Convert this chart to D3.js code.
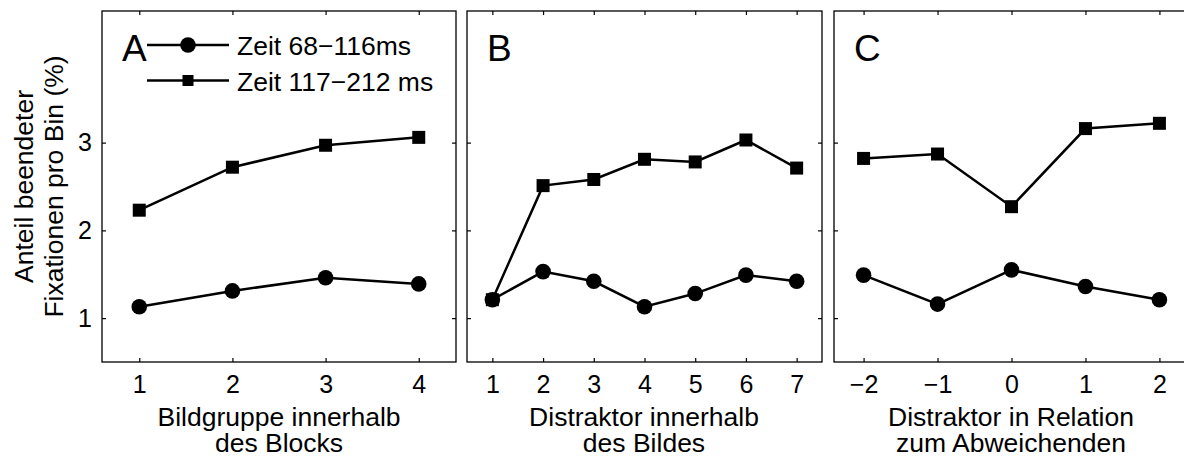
<!DOCTYPE html>
<html>
<head>
<meta charset="utf-8">
<script src="https://cdn.jsdelivr.net/npm/d3@7"></script>
<style>
  body { margin: 0; background: #fff; }
  svg { display: block; font-family: "Liberation Sans", Arial, Helvetica, sans-serif; }
</style>
</head>
<body>
<div id="chart"></div>
<script>
// values (percent of fixations ending per bin)
var aX = [1, 2, 3, 4];
var aEarly = [1.13, 1.31, 1.46, 1.39];
var aLate = [2.23, 2.72, 2.97, 3.06];

var bX = [1, 2, 3, 4, 5, 6, 7];
var bEarly = [1.21, 1.53, 1.42, 1.13, 1.28, 1.49, 1.42];
var bLate = [1.21, 2.51, 2.58, 2.81, 2.78, 3.03, 2.71];

var cX = [-2, -1, 0, 1, 2];
var cEarly = [1.49, 1.16, 1.55, 1.36, 1.21];
var cLate = [2.82, 2.87, 2.27, 3.16, 3.22];

var yTicks = [1, 2, 3];
var seriesNames = ["Zeit 68\u2212116ms", "Zeit 117\u2212212 ms"];
var panelLetters = ["A", "B", "C"];
var xTitles = [
    ["Bildgruppe innerhalb", "des Blocks"],
    ["Distraktor innerhalb", "des Bildes"],
    ["Distraktor in Relation", "zum Abweichenden"]
];
var yTitle = ["Anteil beendeter", "Fixationen pro Bin (%)"];

var width = 1184, height = 459;
var top_ = 11, bottom = 362;
var fontSize = 26.5;
var tickFont = 25;

var svg = d3.select("#chart").append("svg")
    .attr("width", width)
    .attr("height", height);

var y = d3.scaleLinear().domain([0.5, 4.5]).range([bottom, top_]);

var panels = [
    { left: 102, right: 456, domain: [0.6, 4.4], xs: aX, early: aEarly, late: aLate },
    { left: 467, right: 822, domain: [0.5, 7.5], xs: bX, early: bEarly, late: bLate },
    { left: 834, right: 1189, domain: [-2.4, 2.4], xs: cX, early: cEarly, late: cLate }
];

function drawSeries(g, x, xs, vals, shape) {
    var pts = xs.map(function (d, i) { return [x(d), y(vals[i])]; });
    g.append("path")
        .attr("d", d3.line()(pts))
        .attr("fill", "none")
        .attr("stroke", "#000")
        .attr("stroke-width", 2.5);
    if (shape == "circle") {
        g.selectAll(null).data(pts).enter().append("circle")
            .attr("cx", function (d) { return d[0]; })
            .attr("cy", function (d) { return d[1]; })
            .attr("r", 7.8)
            .attr("fill", "#000");
    } else {
        g.selectAll(null).data(pts).enter().append("rect")
            .attr("x", function (d) { return d[0] - 6.5; })
            .attr("y", function (d) { return d[1] - 6.5; })
            .attr("width", 13)
            .attr("height", 13)
            .attr("fill", "#000");
    }
}

panels.forEach(function (p, idx) {
    var x = d3.scaleLinear().domain(p.domain).range([p.left, p.right]);
    var g = svg.append("g");

    // inward ticks on all four sides (box style)
    var xb = g.append("g").attr("transform", "translate(0," + bottom + ")")
        .call(d3.axisBottom(x).tickValues(p.xs).tickSize(-4).tickPadding(13)
            .tickFormat(d3.format("d")));
    var xt = g.append("g").attr("transform", "translate(0," + top_ + ")")
        .call(d3.axisTop(x).tickValues(p.xs).tickSize(-4).tickFormat(""));
    var yl = g.append("g").attr("transform", "translate(" + p.left + ",0)")
        .call(d3.axisLeft(y).tickValues(yTicks).tickSize(-4).tickPadding(10)
            .tickFormat(idx == 0 ? d3.format("d") : ""));
    var yr = g.append("g").attr("transform", "translate(" + p.right + ",0)")
        .call(d3.axisRight(y).tickValues(yTicks).tickSize(-4).tickFormat(""));

    [xb, xt, yl, yr].forEach(function (a) {
        a.select(".domain").remove();
        a.selectAll("line").attr("stroke", "#000").attr("stroke-width", 1.2);
        a.selectAll("text").attr("fill", "#000").style("font-size", tickFont + "px");
    });

    g.append("rect")
        .attr("x", p.left).attr("y", top_)
        .attr("width", p.right - p.left).attr("height", bottom - top_)
        .attr("fill", "none").attr("stroke", "#000").attr("stroke-width", 1.3);

    drawSeries(g, x, p.xs, p.late, "square");
    drawSeries(g, x, p.xs, p.early, "circle");

    g.append("text")
        .attr("x", p.left + 20).attr("y", 61)
        .style("font-size", "37px")
        .text(panelLetters[idx]);

    var mid = p.left + 177;
    g.append("text")
        .attr("text-anchor", "middle")
        .style("font-size", fontSize + "px")
        .selectAll("tspan").data(xTitles[idx]).enter().append("tspan")
        .attr("x", mid)
        .attr("y", function (d, i) { return 426 + i * 26; })
        .text(function (d) { return d; });
});

// legend inside panel A
var legend = svg.append("g");
var legendY = [45, 80.5];
legendY.forEach(function (ly, i) {
    legend.append("line")
        .attr("x1", 147).attr("x2", 229)
        .attr("y1", ly).attr("y2", ly)
        .attr("stroke", "#000").attr("stroke-width", 2.5);
    if (i == 0) {
        legend.append("circle").attr("cx", 188).attr("cy", ly).attr("r", 7.8).attr("fill", "#000");
    } else {
        legend.append("rect").attr("x", 182.5).attr("y", ly - 5.5).attr("width", 11).attr("height", 11).attr("fill", "#000");
    }
    legend.append("text")
        .attr("x", 237).attr("y", ly + 10)
        .style("font-size", "26.5px")
        .text(seriesNames[i]);
});

// y axis title, two rotated lines
var yt = svg.append("text")
    .attr("transform", "translate(0," + (top_ + bottom) / 2 + ") rotate(-90)")
    .attr("text-anchor", "middle")
    .style("font-size", fontSize + "px");
yt.selectAll("tspan").data(yTitle).enter().append("tspan")
    .attr("x", 0)
    .attr("y", function (d, i) { return 33 + i * 30; })
    .text(function (d) { return d; });
</script>
</body>
</html>
